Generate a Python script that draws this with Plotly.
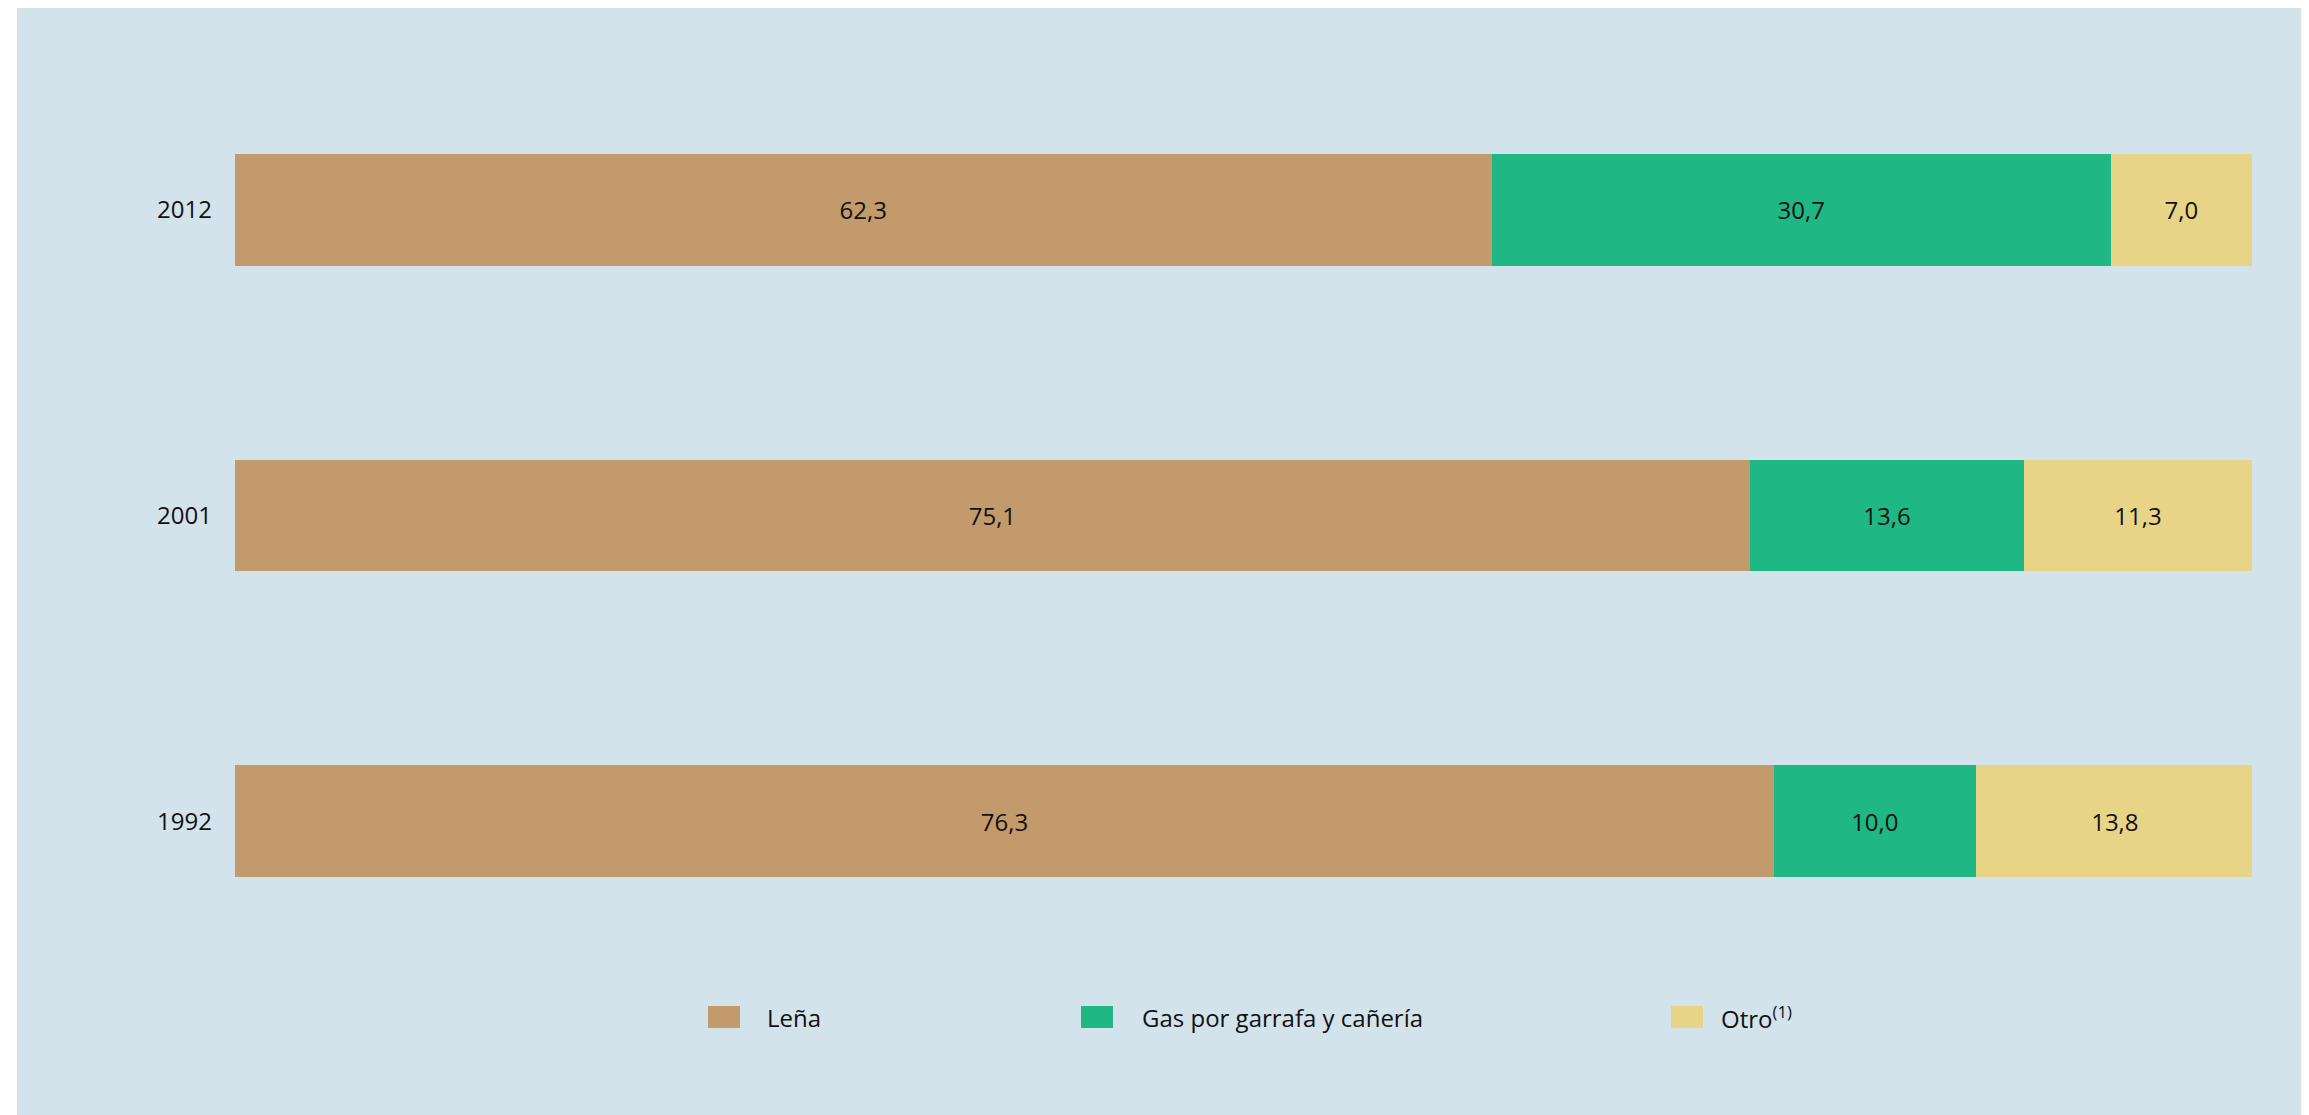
import plotly.graph_objects as go

# ---- data ----
years = ["1992", "2001", "2012"]
series_names = ["Leña", "Gas por garrafa y cañería", "Otro<sup>(1)</sup>"]
lena = [76.3, 75.1, 62.3]
gas = [10.0, 13.6, 30.7]
otro = [13.8, 11.3, 7.0]
colors = ["#C39A6B", "#1FB784", "#E8D486"]

# page body has an 8px default margin; size the figure so it fits the window
OFF = 8
W, H = 2309 - OFF, 1115 - OFF
L, R, T, B = 235 - OFF, 57, 57 - OFF, 141
PW, PH = W - L - R, H - T - B
BG = "#D2E3EB"
FONT = "Open Sans"


def px_x(px):
    # px given in window coordinates
    return (px - OFF - L) / PW


def px_y(py):
    return (H - B - (py - OFF)) / PH


fig = go.Figure()
for name, vals, col in zip(series_names, [lena, gas, otro], colors):
    fig.add_trace(go.Bar(
        y=years, x=vals, name=name, orientation="h",
        marker=dict(color=col, line=dict(width=0)),
        texttemplate="%{x:.1f}", textposition="inside",
        insidetextanchor="middle", textangle=0,
        textfont=dict(family=FONT, size=24, color="#111111"),
        showlegend=False, hoverinfo="x+name",
    ))

shapes = [dict(type="rect", xref="paper", yref="paper",
               x0=px_x(17), x1=px_x(2309 + 20), y0=px_y(1115 + 20), y1=px_y(7),
               fillcolor=BG, line=dict(width=0), layer="below")]
annotations = []
# legend (square key + label)
legend_items = [(708, 740, 765), (1081, 1113, 1140), (1671, 1703, 1719)]
for (sx0, sx1, tx), name, col in zip(legend_items, series_names, colors):
    shapes.append(dict(type="rect", xref="paper", yref="paper",
                       x0=px_x(sx0), x1=px_x(sx1), y0=px_y(1028), y1=px_y(1006),
                       fillcolor=col, line=dict(width=0)))
    annotations.append(dict(xref="paper", yref="paper", x=px_x(tx), y=px_y(1017),
                            text=name, showarrow=False, xanchor="left", yanchor="middle",
                            font=dict(family=FONT, size=24, color="#111111")))

fig.update_layout(
    width=W, height=H,
    margin=dict(l=L, r=R, t=T, b=B, autoexpand=False),
    barmode="stack", bargap=0.634,
    paper_bgcolor="white", plot_bgcolor="rgba(0,0,0,0)",
    separators=",.",
    font=dict(family=FONT, size=24, color="#111111"),
    xaxis=dict(range=[0, 100], visible=False, fixedrange=True),
    yaxis=dict(type="category", categoryorder="array", categoryarray=years,
               range=[-0.5, 2.5], showgrid=False, zeroline=False, showline=False,
               ticks="", ticklabelstandoff=22,
               tickfont=dict(family=FONT, size=24, color="#111111")),
    shapes=shapes, annotations=annotations,
    showlegend=False,
)

fig.write_html("out.html")
